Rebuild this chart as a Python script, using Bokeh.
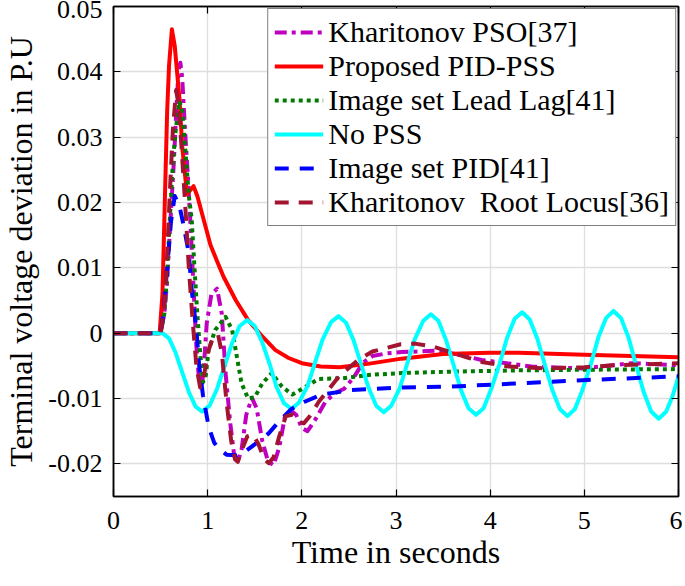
from bokeh.plotting import figure
from bokeh.models import Range1d, LinearAxis, FixedTicker, Legend, LegendItem
from bokeh.embed import file_html
from bokeh.resources import INLINE

# ---------------- data ----------------
x_ticks = [0, 1, 2, 3, 4, 5, 6]
y_ticks = [-0.02, -0.01, 0, 0.01, 0.02, 0.03, 0.04, 0.05]
y_tick_labels = ["-0.02", "-0.01", "0", "0.01", "0.02", "0.03", "0.04", "0.05"]

labels = ["Kharitonov PSO[37]", "Proposed PID-PSS", "Image set Lead Lag[41]",
          "No PSS", "Image set PID[41]", "Kharitonov\u00a0 Root Locus[36]"]

pso_t = [0, 0.50, 0.54, 0.57, 0.60, 0.62, 0.64, 0.67, 0.69, 0.71, 0.73, 0.76, 0.79, 0.82,
         0.85, 0.88, 0.91, 0.935, 0.96, 0.99, 1.04, 1.10, 1.15, 1.19, 1.24, 1.28, 1.32,
         1.36, 1.41, 1.47, 1.52, 1.58, 1.64, 1.70, 1.76, 1.82, 1.88, 1.94, 2.00, 2.06,
         2.14, 2.25, 2.35, 2.45, 2.55, 2.65, 2.75, 2.90, 3.06, 3.42, 3.60, 3.91, 4.44,
         4.98, 5.51, 6.00]
pso_v = [0, 0, 0.003, 0.008, 0.016, 0.021, 0.026, 0.035, 0.040, 0.0414, 0.039, 0.031,
         0.024, 0.016, 0.007, -0.002, -0.0075, -0.0085, -0.005, 0.0015, 0.006, 0.0068,
         0.003, -0.0061, -0.0138, -0.0185, -0.0197, -0.0178, -0.0125, -0.0099, -0.0115,
         -0.0165, -0.0196, -0.0202, -0.0175, -0.0128, -0.0118, -0.0125, -0.0145, -0.0150,
         -0.0133, -0.0105, -0.0092, -0.0085, -0.0068, -0.0045, -0.0035, -0.0031, -0.0029,
         -0.0027, -0.0031, -0.0041, -0.0051, -0.0054, -0.0046, -0.0049]

pid_pss_t = [0, 0.49, 0.52, 0.55, 0.57, 0.59, 0.62, 0.65, 0.70, 0.73, 0.78, 0.81, 0.85,
             0.89, 0.94, 1.03, 1.10, 1.17, 1.30, 1.43, 1.58, 1.72, 1.86, 2.00, 2.20, 2.40,
             2.70, 3.06, 3.50, 4.00, 4.30, 5.00, 5.50, 6.00]
pid_pss_v = [0, 0, 0.006, 0.023, 0.034, 0.041, 0.0465, 0.044, 0.036, 0.0285, 0.0213,
             0.0218, 0.0225, 0.021, 0.0183, 0.0135, 0.011, 0.0086, 0.005, 0.002, -0.0005,
             -0.0026, -0.0038, -0.0046, -0.0051, -0.0052, -0.0047, -0.0039, -0.0032,
             -0.0030, -0.0030, -0.0033, -0.0035, -0.0037]

leadlag_t = [0, 0.50, 0.54, 0.57, 0.60, 0.63, 0.66, 0.70, 0.73, 0.76, 0.80, 0.83, 0.86,
             0.89, 0.92, 0.95, 0.98, 1.01, 1.08, 1.19, 1.26, 1.31, 1.36, 1.43, 1.50, 1.58,
             1.68, 1.79, 1.90, 2.04, 2.18, 2.43, 2.71, 3.06, 3.56, 4.27, 4.98, 6.00]
leadlag_v = [0, 0, 0.003, 0.009, 0.018, 0.026, 0.031, 0.0355, 0.034, 0.0285, 0.021,
             0.0175, 0.010, 0.003, -0.003, -0.0075, -0.0065, -0.0026, 0.0005, 0.0025,
             0.0005, -0.0036, -0.0077, -0.0100, -0.0098, -0.0077, -0.0061, -0.0082,
             -0.0094, -0.0082, -0.0070, -0.0069, -0.0064, -0.0061, -0.0059, -0.0057,
             -0.0056, -0.0055]

nopss_t = [0, 0.52, 0.59, 0.66, 0.73, 0.80, 0.87, 0.94,
           1.02, 1.10, 1.18, 1.26, 1.34, 1.42,
           1.50, 1.58, 1.66, 1.73, 1.81, 1.89,
           1.97, 2.06, 2.14, 2.22, 2.31, 2.39,
           2.47, 2.55, 2.63, 2.71, 2.79, 2.87,
           2.95, 3.04, 3.12, 3.20, 3.29, 3.37,
           3.45, 3.53, 3.61, 3.69, 3.77, 3.85,
           3.93, 4.01, 4.10, 4.18, 4.26, 4.34,
           4.42, 4.50, 4.58, 4.66, 4.74, 4.82,
           4.90, 4.98, 5.07, 5.15, 5.23, 5.31,
           5.39, 5.47, 5.55, 5.63, 5.71, 5.79,
           5.87, 5.94, 6.00]
nopss_v = [0, 0, -0.0008, -0.003, -0.006, -0.009, -0.0112, -0.0120,
           -0.0111, -0.0085, -0.0050, -0.0015, 0.0011, 0.0020,
           0.0011, -0.0014, -0.0048, -0.0082, -0.0107, -0.0116,
           -0.0106, -0.0081, -0.0045, -0.0010, 0.0017, 0.0026,
           0.0016, -0.0011, -0.0048, -0.0084, -0.0111, -0.0121,
           -0.0111, -0.0084, -0.0046, -0.0009, 0.0019, 0.0029,
           0.0019, -0.0010, -0.0048, -0.0087, -0.0115, -0.0125,
           -0.0115, -0.0086, -0.0047, -0.0007, 0.0022, 0.0032,
           0.0021, -0.0008, -0.0048, -0.0087, -0.0116, -0.0127,
           -0.0116, -0.0087, -0.0047, -0.0006, 0.0023, 0.0034,
           0.0023, -0.0007, -0.0049, -0.0090, -0.0120, -0.0131,
           -0.0120, -0.0095, -0.0066]

pid_t = [0, 0.50, 0.53, 0.57, 0.61, 0.65, 0.70, 0.74, 0.80, 0.83, 0.86, 0.88, 0.91, 0.95,
         1.01, 1.07, 1.13, 1.20, 1.30, 1.40, 1.52, 1.65, 1.77, 1.89, 2.03, 2.21, 2.53,
         3.06, 3.56, 4.27, 4.98, 6.00]
pid_v = [0, 0, 0.003, 0.010, 0.017, 0.021, 0.0195, 0.0168, 0.0122, 0.0066, 0.003, 0.0005,
         -0.005, -0.0095, -0.0143, -0.0168, -0.0178, -0.0186, -0.0187, -0.0181, -0.0168,
         -0.0153, -0.0133, -0.0116, -0.0105, -0.0094, -0.0087, -0.0083, -0.0082, -0.0077,
         -0.0072, -0.0066]

rl_t = [0, 0.50, 0.54, 0.57, 0.60, 0.63, 0.665, 0.69, 0.72, 0.76, 0.80, 0.84, 0.88, 0.92,
        0.95, 1.00, 1.06, 1.11, 1.15, 1.20, 1.25, 1.29, 1.32, 1.36, 1.42, 1.48, 1.54, 1.60,
        1.65, 1.70, 1.76, 1.83, 1.90, 1.96, 2.02, 2.08, 2.18, 2.28, 2.40, 2.60, 2.75, 2.89,
        3.05, 3.20, 3.38, 3.56, 3.75, 3.91, 4.20, 4.62, 5.00, 5.33, 6.00]
rl_v = [0, 0, 0.004, 0.012, 0.022, 0.031, 0.0372, 0.035, 0.029, 0.020, 0.010, 0.002,
        -0.005, -0.0083, -0.0075, -0.003, -0.0005, -0.0002, -0.003, -0.0105, -0.0165,
        -0.0193, -0.0197, -0.018, -0.0158, -0.0155, -0.017, -0.0193, -0.0199, -0.019,
        -0.0158, -0.0127, -0.0125, -0.0135, -0.0138, -0.0128, -0.0105, -0.0087, -0.0065,
        -0.0041, -0.0028, -0.0023, -0.0017, -0.0016, -0.0020, -0.0028, -0.0037, -0.0044,
        -0.0051, -0.0054, -0.0052, -0.0049, -0.0046]

# ---------------- figure ----------------
FONT = "Liberation Serif"

p = figure(frame_width=565, frame_height=490,
           x_range=Range1d(0, 6), y_range=Range1d(-0.025, 0.05),
           output_backend="svg", toolbar_location=None,
           min_border_left=4, min_border_top=6, min_border_right=4, min_border_bottom=4,
           background_fill_color="white", border_fill_color="white")

p.outline_line_color = "black"
p.outline_line_width = 1.5
p.outline_line_alpha = 1

for ax in (p.xaxis[0], p.yaxis[0]):
    ax.axis_line_color = "black"
    ax.axis_line_width = 1.5
    ax.major_tick_in = 7
    ax.major_tick_out = 0
    ax.major_tick_line_width = 1.2
    ax.minor_tick_line_color = None
    ax.major_label_text_font = FONT
    ax.major_label_text_font_size = "26px"
    ax.major_label_text_color = "black"
    ax.axis_label_text_font = FONT
    ax.axis_label_text_font_size = "32px"
    ax.axis_label_text_font_style = "normal"
    ax.axis_label_text_color = "black"

p.xaxis[0].ticker = FixedTicker(ticks=x_ticks)
p.yaxis[0].ticker = FixedTicker(ticks=y_ticks)
p.yaxis[0].major_label_overrides = {v: s for v, s in zip(y_ticks, y_tick_labels)}
p.xaxis[0].axis_label = "Time in seconds"
p.yaxis[0].axis_label = "Terminal voltage deviation in P.U"
p.xaxis[0].major_label_standoff = 15
p.yaxis[0].major_label_standoff = 11
p.xaxis[0].axis_label_standoff = 2
p.yaxis[0].axis_label_standoff = 6

for loc, ticks in (("above", x_ticks), ("right", y_ticks)):
    ax = LinearAxis(ticker=FixedTicker(ticks=ticks),
                    major_label_overrides={t: "" for t in ticks},
                    major_label_text_font_size="1px",
                    major_tick_in=7, major_tick_out=0, major_tick_line_width=1.2,
                    minor_tick_line_color=None, axis_line_width=1.5,
                    major_label_standoff=0)
    p.add_layout(ax, loc)

p.xgrid.ticker = FixedTicker(ticks=x_ticks)
p.ygrid.ticker = FixedTicker(ticks=y_ticks)
p.xgrid.grid_line_color = "#dedede"
p.ygrid.grid_line_color = "#dedede"
p.xgrid.grid_line_width = 1.3
p.ygrid.grid_line_width = 1.3

series = [
    (pso_t, pso_v, "#bf00bf", "12 5 4 5"),
    (pid_pss_t, pid_pss_v, "#ff0000", "solid"),
    (leadlag_t, leadlag_v, "#007a00", "4 4"),
    (nopss_t, nopss_v, "#00ffff", "solid"),
    (pid_t, pid_v, "#0000ff", "14 11"),
    (rl_t, rl_v, "#a2142f", "14 10"),
]

items = []
for (t, v, c, d), lab in zip(series, labels):
    r = p.line(t, v, line_color=c, line_width=4, line_dash=d, line_join="round")
    items.append(LegendItem(label=lab, renderers=[r]))

legend = Legend(items=items, location="top_right",
                label_text_font=FONT, label_text_font_size="30px",
                label_text_color="black",
                glyph_width=49, glyph_height=34, label_height=34,
                label_standoff=5, spacing=0, padding=6, margin=2,
                border_line_color="black", border_line_width=1.2,
                background_fill_color="white", background_fill_alpha=1)
p.add_layout(legend)

open("out.html", "w").write(file_html(p, INLINE))
